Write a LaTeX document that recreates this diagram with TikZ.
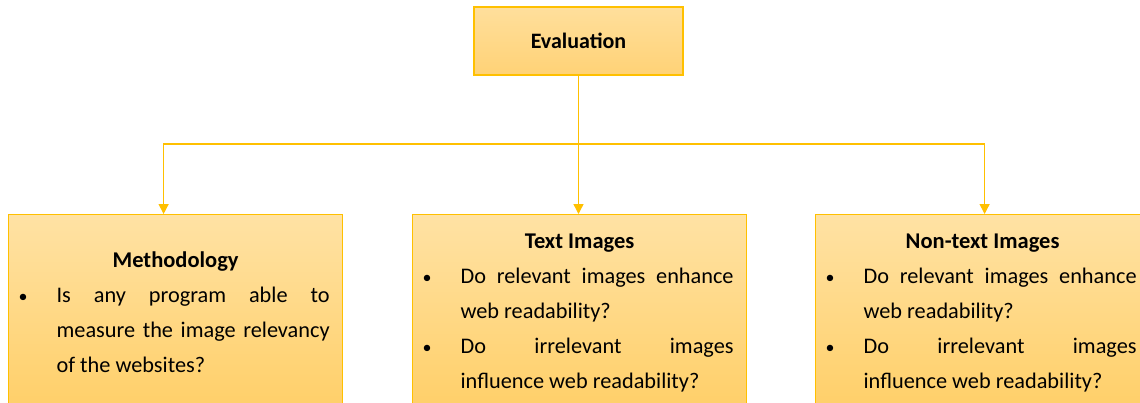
\documentclass[tikz,border=0pt]{standalone}
\usepackage{fontspec}
\setmainfont{Carlito}
\usetikzlibrary{arrows.meta}
\definecolor{gold}{HTML}{FFC000}
\definecolor{cardtop}{HTML}{FFE2A4}
\definecolor{cardbot}{HTML}{FFCF68}
\definecolor{evaltop}{HTML}{FFDF9C}
\definecolor{evalbot}{HTML}{FFD276}
\newcommand\qlabel[1]{\hspace*{-3pt}#1\hfil}
\newcommand\qbullet{{\fontsize{18}{18}\selectfont\textbullet}}
\newenvironment{qlist}{%
  \begin{list}{\qbullet}{%
    \setlength\leftmargin{35pt}\setlength\labelsep{0pt}%
    \setlength\labelwidth{35pt}\setlength\itemindent{0pt}%
    \setlength\itemsep{0pt}\setlength\parsep{0pt}%
    \setlength\topsep{0pt}\setlength\partopsep{0pt}%
    \let\makelabel\qlabel}}%
  {\end{list}}
% justified body text: no hyphens, spaces may stretch but never shrink
\newcommand\cardsetup{\hyphenpenalty=10000 \exhyphenpenalty=10000 \tolerance=10000
  \fontdimen4\font=0pt \relax}
\newcommand\cardtitle[1]{{\centering\fontsize{22.5}{35}\selectfont\bfseries #1\par}}
\tikzset{
  card/.style={draw=gold, line width=1.2pt, top color=cardtop, bottom color=cardbot,
    minimum width=334pt, minimum height=196pt, text width=308pt, inner xsep=12pt, inner ysep=0pt,
    anchor=north west, align=justify, font=\fontsize{22.3}{35}\selectfont},
  evalbox/.style={draw=gold, line width=1.2pt, top color=evaltop, bottom color=evalbot,
    minimum width=209pt, minimum height=68pt, font=\fontsize{22}{26}\selectfont\bfseries},
  link/.style={draw=gold, line width=1.4pt},
  tip/.style={-{Triangle[width=10pt,length=10pt]}}
}
\begin{document}
\begin{tikzpicture}[x=1pt,y=-1pt]
  \useasboundingbox (0,0) rectangle (1140,402);
  \clip (0,0) rectangle (1140,402);
  \fill[white] (0,0) rectangle (1140,402);

  % top node
  \node[evalbox] (eval) at (578.5,41) {Evaluation};

  % three question cards
  \node[card] (meth) at (8,214) {\cardsetup
    \cardtitle{Methodology}
    \begin{qlist}
      \item Is any program able to measure the image relevancy of the websites?
    \end{qlist}};
  \node[card] (text) at (412,214) {\cardsetup
    \cardtitle{Text Images}
    \begin{qlist}
      \item Do relevant images enhance web readability?
      \item Do irrelevant images influence web readability?
    \end{qlist}};
  \node[card] (nontext) at (815,214) {\cardsetup
    \cardtitle{Non-text Images}
    \begin{qlist}
      \item Do relevant images enhance web readability?
      \item Do irrelevant images influence web readability?
    \end{qlist}};

  % connectors
  \coordinate (hub) at (eval.south |- 0,144);
  \draw[link,tip] (eval.south) -- (eval.south |- text.north);
  \draw[link,tip] (hub) -| ([xshift=-12pt]meth.north);
  \draw[link,tip] (hub) -| ([xshift=2pt]nontext.north);
\end{tikzpicture}
\end{document}
